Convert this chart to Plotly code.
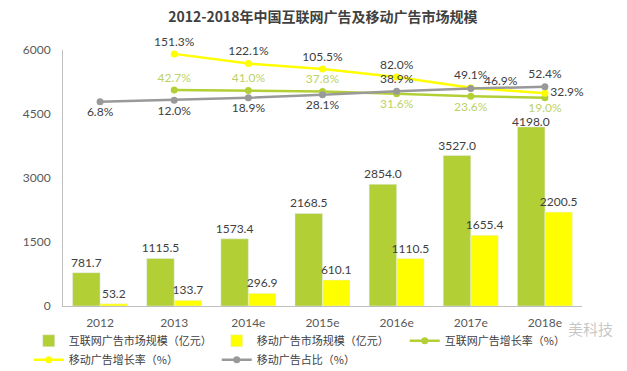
import plotly.graph_objects as go

years = ["2012", "2013", "2014e", "2015e", "2016e", "2017e", "2018e"]
internet_size = [781.7, 1115.5, 1573.4, 2168.5, 2854.0, 3527.0, 4198.0]
mobile_size = [53.2, 133.7, 296.9, 610.1, 1110.5, 1655.4, 2200.5]
internet_growth = [None, 42.7, 41.0, 37.8, 31.6, 23.6, 19.0]
mobile_growth = [None, 151.3, 122.1, 105.5, 82.0, 49.1, 32.9]
mobile_share = [6.8, 12.0, 18.9, 28.1, 38.9, 46.9, 52.4]
y_ticks = [0, 1500, 3000, 4500, 6000]

GREEN = "#b3cf36"
YELLOW = "#ffff00"
GRAY = "#999999"
TXT = "#404040"
FONT = "Lato, Noto Sans CJK SC, sans-serif"
CJK = "Noto Sans CJK SC, sans-serif"


def pct(vals):
    return ["" if v is None else f"{v:.1f}%" for v in vals]


share_text = pct(mobile_share)
share_text[5] = ""  # drawn as an offset annotation below
internet_text = [f"{v:.1f}" for v in internet_size]
internet_text[6] = ""  # drawn as an annotation nudged closer to the bar

fig = go.Figure()
fig.add_trace(go.Bar(
    x=years, y=internet_size, name="互联网广告市场规模（亿元）",
    marker_color=GREEN, text=internet_text,
    textposition="outside", constraintext="none", cliponaxis=False,
    textfont=dict(size=12, color=TXT, family=FONT)))
fig.add_trace(go.Bar(
    x=years, y=mobile_size, name="移动广告市场规模（亿元）",
    marker_color=YELLOW, text=[f"{v:.1f}" for v in mobile_size],
    textposition="outside", constraintext="none", cliponaxis=False,
    textfont=dict(size=12, color=TXT, family=FONT)))
fig.add_trace(go.Scatter(
    x=years, y=internet_growth, name="互联网广告增长率（%）", yaxis="y2",
    mode="lines+markers+text", line=dict(color=GREEN, width=2.5),
    marker=dict(size=7, color=GREEN), text=pct(internet_growth),
    textposition=["top center", "top center", "top center", "top center",
                  "bottom center", "bottom center", "bottom center"],
    textfont=dict(size=12, color="#bcd266", family=FONT), cliponaxis=False))
fig.add_trace(go.Scatter(
    x=years, y=mobile_growth, name="移动广告增长率（%）", yaxis="y2",
    mode="lines+markers+text", line=dict(color=YELLOW, width=2.5),
    marker=dict(size=7, color=YELLOW), text=pct(mobile_growth),
    textposition=["top center"] * 6 + ["middle right"],
    textfont=dict(size=12, color=TXT, family=FONT), cliponaxis=False))
fig.add_trace(go.Scatter(
    x=years, y=mobile_share, name="移动广告占比（%）", yaxis="y2",
    mode="lines+markers+text", line=dict(color=GRAY, width=2.5),
    marker=dict(size=7, color=GRAY), text=share_text,
    textposition=["bottom center"] * 4 + ["top center", "top center", "top center"],
    textfont=dict(size=12, color=TXT, family=FONT), cliponaxis=False))

fig.update_layout(
    width=627, height=371,
    margin=dict(l=63, r=45, t=50, b=65, autoexpand=False),
    paper_bgcolor="white", plot_bgcolor="white",
    barmode="group", bargap=0.258, bargroupgap=0,
    title=dict(text="<b>2012-2018年中国互联网广告及移动广告市场规模</b>",
               x=0.515, xanchor="center", y=0.954, yanchor="middle",
               font=dict(size=14, color=TXT, family=CJK)),
    xaxis=dict(type="category", showline=True, linecolor="#bfbfbf", linewidth=1,
               showgrid=False, ticks="", ticklabelstandoff=6,
               tickfont=dict(size=12, color="#595959", family=FONT)),
    yaxis=dict(range=[0, 6000], tickvals=y_ticks, showline=True, linecolor="#bfbfbf",
               linewidth=1, showgrid=False, zeroline=False, ticks="",
               ticklabelstandoff=9,
               tickfont=dict(size=12, color="#595959", family=FONT)),
    yaxis2=dict(range=[-608, 163], overlaying="y", visible=False),
    showlegend=True,
    legend=dict(orientation="h", x=-0.066, xanchor="left", y=-0.079, yanchor="top",
                entrywidth=143, entrywidthmode="pixels", tracegroupgap=0,
                font=dict(size=11, color=TXT, family=CJK),
                bgcolor="rgba(0,0,0,0)"),
    annotations=[
        dict(text=f"{mobile_share[5]:.1f}%", xref="x", yref="y2",
             x=years[5], y=mobile_share[5], xshift=30, yshift=8,
             xanchor="center", yanchor="middle", showarrow=False,
             font=dict(size=12, color=TXT, family=FONT)),
        dict(text=f"{internet_size[6]:.1f}", xref="x", yref="y",
             x=years[6], y=internet_size[6], xshift=-13.75, yshift=5,
             xanchor="center", yanchor="middle", showarrow=False,
             font=dict(size=12, color=TXT, family=FONT)),
        dict(text="美科技", xref="paper", yref="paper",
             x=(590 - 63) / 519, y=(306 - 328) / 256,
             xanchor="center", yanchor="middle", showarrow=False,
             font=dict(size=15, color="rgba(160,160,160,0.6)", family=CJK)),
    ],
)

fig.write_html("out.html", config={"displayModeBar": False},
               post_script="document.body.style.margin='0';")
